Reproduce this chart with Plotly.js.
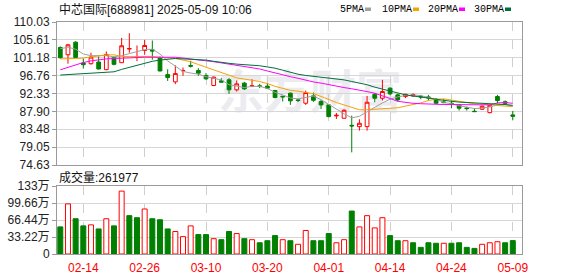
<!DOCTYPE html>
<html><head><meta charset="utf-8">
<script src="https://cdn.plot.ly/plotly-3.0.1.min.js"></script>
<style>html,body{margin:0;padding:0;background:#fff}#chart{width:578px;height:276px}</style>
</head><body><div id="chart"></div>
<script>
const stockTitle = "中芯国际[688981] 2025-05-09 10:06";
const dates = ["02-11","02-12","02-13","02-14","02-17","02-18","02-19","02-20","02-21","02-24",
"02-25","02-26","02-27","02-28","03-03","03-04","03-05","03-06","03-07","03-10",
"03-11","03-12","03-13","03-14","03-17","03-18","03-19","03-20","03-21","03-24",
"03-25","03-26","03-27","03-28","03-31","04-01","04-02","04-03","04-07","04-08",
"04-09","04-10","04-11","04-14","04-15","04-16","04-17","04-18","04-21","04-22",
"04-23","04-24","04-25","04-28","04-29","04-30","05-06","05-07","05-08","05-09"];
const labelDates = ["02-14","02-26","03-10","03-20","04-01","04-14","04-24","05-09"];
const openP = [103.73,101.92,105.04,99.88,99.71,100.12,98.24,101.19,99.96,103.35,
101.27,102.99,103.15,101.19,97.01,95.21,97.95,99.27,98.03,96.79,
94.31,95.47,95.72,93.24,94.89,94.15,94.23,94.15,93.07,91.66,
92.41,90.75,89.92,91.74,90.33,89.51,86.78,86.2,84.46,84.13,
84.13,92.15,91.16,93.64,91.99,91.57,91.74,91.66,91.49,90.91,
90.25,89.92,89.51,88.76,87.94,88.43,87.6,91.58,90.3,87.03];
const highP = [103.97,104.63,105.28,100.94,102.42,101.52,102.74,101.52,106.1,107.25,
104.22,105.61,105.45,101.52,98.32,99.3,98.78,100.43,98.61,97.37,
96.54,96.13,96.13,95.55,95.22,95.88,94.72,94.89,93.24,91.7,
92.57,91.0,93.06,92.57,90.75,89.59,87.52,88.43,86.86,85.95,
91.74,92.4,95.71,93.89,92.24,92.24,92.4,91.99,91.99,91.16,
90.99,90.58,89.75,89.09,88.68,89.34,89.6,91.99,90.6,88.02];
const lowP = [100.94,99.71,101.1,98.48,99.47,98.3,98.1,99.3,99.9,102.42,
100.37,101.92,100.7,97.8,95.45,94.64,96.71,98.78,96.71,95.72,
94.15,95.05,92.24,92.82,93.24,93.9,93.65,93.4,91.17,90.34,
89.51,90.2,89.51,90.25,88.51,86.45,86.03,86.12,77.76,83.14,
83.14,90.17,90.58,91.9,90.33,91.16,91.49,90.91,90.58,89.75,
89.92,88.68,88.1,88.1,87.77,88.27,87.4,89.92,89.5,85.79];
const closeP = [101.19,104.38,101.27,99.47,101.35,98.4,102.0,99.55,104.14,103.45,
101.35,104.22,102.83,97.91,96.27,97.26,98.03,99.1,97.37,95.96,
96.38,95.14,93.24,94.72,93.48,94.23,94.06,93.65,91.33,91.5,
90.51,90.6,92.57,90.66,89.51,86.61,86.94,88.18,84.3,84.96,
90.17,91.16,92.81,92.24,90.75,92.15,92.07,91.49,91.24,89.92,
90.08,89.75,88.68,88.6,87.85,89.18,89.4,90.58,89.9,86.7];
// volume in 万 (10k)
const volume = [53,98,69,55,57,49,69,55,123,75,
71,88,69,67,49,44,34,55,38,38,
30,28,44,40,30,28,22,26,36,28,
26,19,46,26,26,40,22,28,84,53,
75,51,71,36,26,26,22,13,22,21,
21,21,22,13,11,19,22,24,22,26.1977];
const ma5 = [103.4,103.8,103.3,102.1,101.7,101.7,101.7,101.4,101.7,102.2,
102.7,103.2,103.3,102.1,100.4,99.2,97.8,97.4,97.1,96.5,
96.1,95.7,94.5,94.1,93.8,94.1,94.1,93.6,92.6,92.0,
91.2,91.0,91.4,91.7,90.8,89.6,88.4,87.3,86.3,86.7,
87.8,89.0,90.0,90.9,91.5,91.8,92.0,91.8,91.4,90.9,
90.1,89.8,89.3,88.9,88.6,88.7,89.0,89.5,89.6,89.2];
const ma10 = [100.9,100.9,101.0,101.1,101.4,101.7,101.9,101.9,101.5,101.5,
101.5,101.5,101.5,101.3,101.1,101.0,100.6,100.2,99.5,98.8,
98.1,97.4,96.8,96.2,95.9,95.6,95.3,94.8,94.1,93.6,
93.1,92.9,92.6,92.3,91.6,90.8,90.1,89.5,88.9,88.3,
88.3,88.4,88.5,88.7,88.8,89.2,89.6,90.0,90.6,90.9,
91.0,90.7,90.4,90.1,89.8,89.7,89.5,89.4,89.2,89.1];
const ma20 = [98.2,98.8,99.3,100.0,100.4,100.7,100.9,101.0,101.1,101.2,
101.3,101.3,101.3,101.3,101.3,101.3,101.1,100.9,100.7,100.5,
100.2,99.9,99.6,99.3,98.9,98.6,98.4,97.9,97.4,96.9,
96.5,96.1,95.6,95.2,94.9,94.5,94.2,93.8,93.5,93.2,
92.8,92.4,91.8,91.1,90.4,90.1,89.9,89.8,89.7,89.7,
89.6,89.6,89.6,89.6,89.5,89.5,89.5,90.0,90.1,89.9];
const ma30 = [96.9,97.0,97.1,97.3,97.4,97.5,97.6,97.7,98.3,98.8,
99.3,99.8,100.3,100.6,100.8,101.0,100.9,100.8,100.7,100.6,
100.3,100.0,99.8,99.6,99.5,99.4,99.2,98.9,98.6,98.1,
97.6,97.1,96.8,96.6,96.4,96.1,95.9,95.7,95.3,94.9,
94.5,93.9,93.4,92.9,92.4,92.0,91.7,91.5,91.2,90.9,
90.6,90.4,90.2,90.1,90.0,89.9,89.9,89.8,89.6,89.4];
const maNames = ["5PMA","10PMA","20PMA","30PMA"];
const priceTicks = [74.63,79.05,83.48,87.90,92.33,96.76,101.18,105.61,110.03];
const volTicks = [0,33.22,66.44,99.66,133];
const volTickText = ["0","33.22万","66.44万","99.66万","133万"];

const UP = '#ff0000', DOWN = '#008000';
const maColors = ['#a0a0a0','#f5a300','#ff00ff','#00703a'];
const maData = [ma5, ma10, ma20, ma30];

const L = 57, R = 522, T = 22, B = 254;
const px = x => (x - L) / (R - L);
const py = y => (B - y) / (B - T);

const volUp = volume.map((v,i) => i === 0 ? closeP[0] >= openP[0] : closeP[i] >= closeP[i-1]);

const traces = [];
maData.forEach((m,k) => traces.push({
  type:'scatter', mode:'lines', x:dates, y:m, xaxis:'x', yaxis:'y',
  line:{color:maColors[k], width:1}, hoverinfo:'skip'
}));
traces.push({
  type:'candlestick', x:dates, open:openP, high:highP, low:lowP, close:closeP,
  xaxis:'x', yaxis:'y',
  increasing:{line:{color:UP, width:1}, fillcolor:'#ffffff'},
  decreasing:{line:{color:DOWN, width:1}, fillcolor:DOWN},
  whiskerwidth:0, hoverinfo:'skip'
});
traces.push({
  type:'bar', x:dates, y:volume, xaxis:'x2', yaxis:'y2',
  marker:{color:volUp.map(u => u ? '#ffffff' : DOWN),
          line:{color:volUp.map(u => u ? UP : DOWN), width:1}},
  hoverinfo:'skip'
});

const fontSans = 'Liberation Sans, Arial, Noto Sans CJK SC, sans-serif';
const axisCommon = {showline:true, mirror:true, linecolor:'#9a9a9a', linewidth:1, zeroline:false, fixedrange:true};

const annotations = [
  {xref:'paper', yref:'paper', x:px(57), y:py(9.5), xanchor:'left', yanchor:'middle', showarrow:false,
   text:stockTitle, font:{family:fontSans, size:12, color:'#111'}},
  {xref:'paper', yref:'paper', x:px(57), y:py(177), xanchor:'left', yanchor:'middle', showarrow:false,
   text:'成交量:' + Math.round(volume[volume.length-1]*10000), font:{family:fontSans, size:12, color:'#111'}}
];
const shapes = [];
const legendX = [338, 380, 426, 472];
maNames.forEach((n,k) => {
  annotations.push({xref:'paper', yref:'paper', x:px(legendX[k]), y:py(9.5), xanchor:'left', yanchor:'middle',
    showarrow:false, text:n, font:{family:'Liberation Mono, monospace', size:10, color:'#000'}});
  const w = n.length * 6;
  shapes.push({type:'rect', xref:'paper', yref:'paper', x0:px(legendX[k]+w+3), x1:px(legendX[k]+w+9),
    y0:py(11), y1:py(7.5), fillcolor:maColors[k], line:{width:0}});
});
shapes.push({type:'rect', xref:'paper', yref:'paper', x0:px(200), x1:px(420), y0:py(125), y1:py(65),
  line:{width:0}, fillcolor:'rgba(0,0,0,0)', layer:'below',
  label:{text:'东方财富', font:{family:'Noto Sans CJK SC', size:46, color:'#ececf0', weight:'bold'}}});

const layout = {
  width:578, height:276, margin:{l:L, r:578-R, t:T, b:276-B},
  paper_bgcolor:'#fff', plot_bgcolor:'#fff', showlegend:false,
  font:{family:fontSans, size:12, color:'#222'},
  xaxis:Object.assign({}, axisCommon, {type:'category', categoryorder:'array', categoryarray:dates,
    range:[-0.43, 60.2], anchor:'y', tickvals:labelDates, showticklabels:false, ticks:'',
    showgrid:true, gridcolor:'#cfcfcf', griddash:'dash', gridwidth:1, rangeslider:{visible:false}}),
  yaxis:Object.assign({}, axisCommon, {domain:[py(165), 1], range:[74.63, 110.03], tickvals:priceTicks,
    ticktext:priceTicks.map(v => v.toFixed(2)), ticks:'outside', ticklen:4, tickcolor:'#9a9a9a',
    showgrid:true, gridcolor:'#d6d6d6', tickfont:{family:fontSans, size:12, color:'#222'}}),
  xaxis2:Object.assign({}, axisCommon, {type:'category', categoryorder:'array', categoryarray:dates,
    range:[-0.43, 60.2], anchor:'y2', tickvals:labelDates, ticktext:labelDates, ticks:'outside', ticklen:3,
    tickcolor:'rgba(0,0,0,0)', showgrid:true, gridcolor:'#cfcfcf', griddash:'dash',
    tickfont:{family:fontSans, size:12, color:'#ff0000'}}),
  yaxis2:Object.assign({}, axisCommon, {domain:[0, py(186)], range:[0, 133], tickvals:volTicks, ticktext:volTickText,
    ticks:'outside', ticklen:4, tickcolor:'#9a9a9a', showgrid:true, gridcolor:'#d6d6d6',
    tickfont:{family:fontSans, size:12, color:'#222'}}),
  bargap:0.35,
  annotations:annotations, shapes:shapes
};
Plotly.newPlot('chart', traces, layout, {displayModeBar:false, staticPlot:true});
</script>
</body></html>
